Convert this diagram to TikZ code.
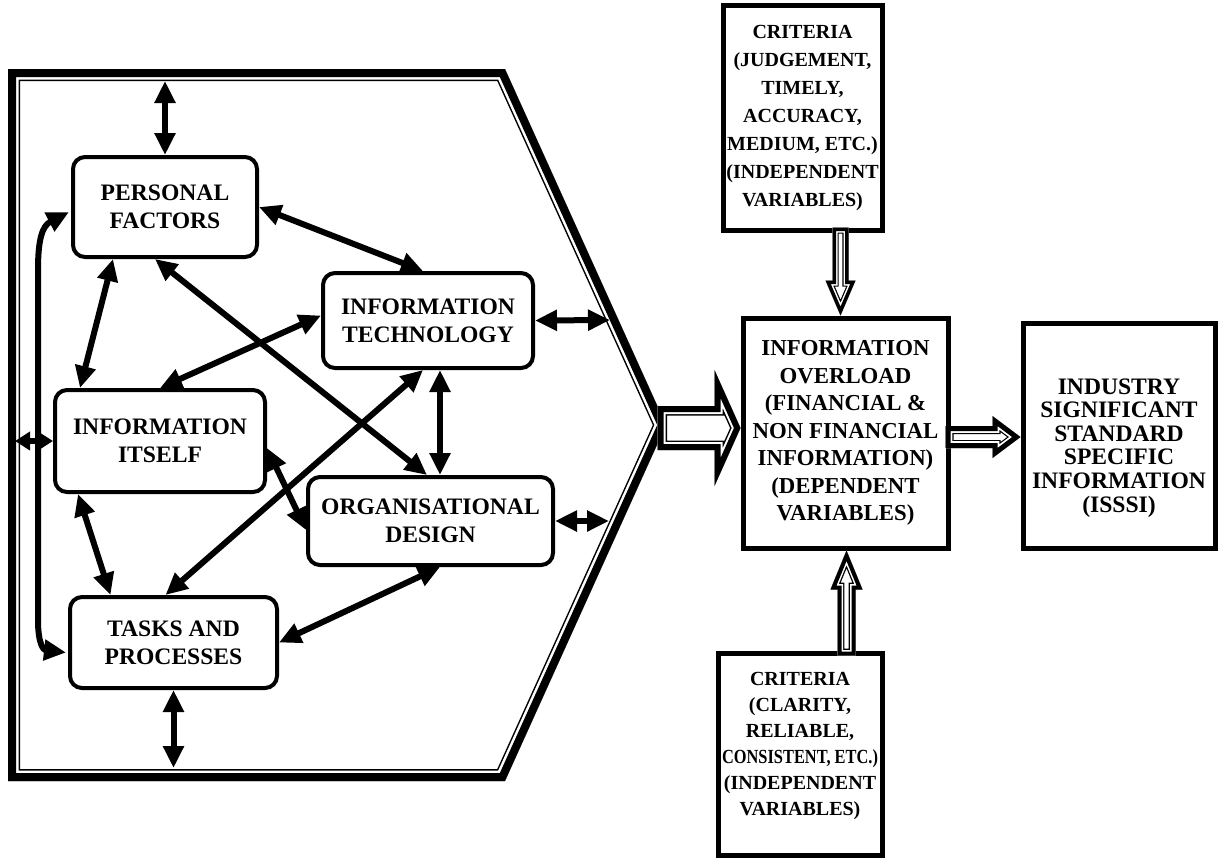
\documentclass[tikz,border=0pt]{standalone}
\usepackage{fontspec}
\setmainfont{Liberation Serif}
\usetikzlibrary{arrows.meta,calc}

% outline with a thick and a thin line inside it (widths in px)
\newcommand{\hollow}[4]{%
  \fill[white] #4;
  \begin{scope}
    \clip #4;
    \draw[line width=#3pt,line join=miter] #4;
    \draw[white,line width=#2pt,line join=miter] #4;
    \draw[line width=#1pt,line join=miter] #4;
  \end{scope}}

\tikzset{
  factor/.style={draw,line width=2pt,rounded corners=6pt,align=center,inner sep=0pt,
    font=\fontsize{11.8}{14}\selectfont\bfseries},
  result/.style={draw,line width=2.5pt,align=center,inner sep=0pt},
  link/.style={line width=3pt,{Triangle[length=11pt,width=10pt]}-{Triangle[length=11pt,width=10pt]}},
  shortlink/.style={line width=3pt,{Triangle[length=7.5pt,width=9pt]}-{Triangle[length=7.5pt,width=9pt]}},
}

\begin{document}
\begin{tikzpicture}[x=.5pt,y=-.5pt]
  \useasboundingbox (0,0) rectangle (1220,858);

  % frame round the factors
  \hollow{8}{10.5}{12}{(8,69) -- (505,69) -- (666,425) -- (505,781) -- (8,781) -- cycle}
  \coordinate (ftop) at (0,81);
  \coordinate (fbot) at (0,768);
  \coordinate (fleft) at (15,0);
  \coordinate (fslant1) at (610,320);
  \coordinate (fslant2) at (609,521);

  % factors
  \node[factor,minimum width=92pt,minimum height=50pt] (pf) at (165,207) {PERSONAL\\FACTORS};
  \node[factor,minimum width=105pt,minimum height=47.5pt] (it) at (428,320.5) {INFORMATION\\TECHNOLOGY};
  \node[factor,minimum width=105pt,minimum height=51pt] (ii) at (160,441) {INFORMATION\\ITSELF};
  \node[factor,minimum width=122.5pt,minimum height=44pt] (od) at (430.5,521) {ORGANISATIONAL\\DESIGN};
  \node[factor,minimum width=103.5pt,minimum height=45.5pt] (tp) at (173.5,642.5) {TASKS AND\\PROCESSES};

  % right hand boxes
  \node[result,minimum width=79.5pt,minimum height=112.5pt,font=\fontsize{10}{14}\selectfont\bfseries]
    (crit1) at (802.5,117.5) {CRITERIA\\(JUDGEMENT,\\TIMELY,\\ACCURACY,\\MEDIUM, ETC.)\\(INDEPENDENT\\VARIABLES)};
  \node[result,minimum width=102.5pt,minimum height=115pt,font=\fontsize{11.4}{13.75}\selectfont\bfseries]
    (ovl) at (845.5,433) {INFORMATION\\OVERLOAD\\(FINANCIAL \&\\NON FINANCIAL\\INFORMATION)\\(DEPENDENT\\VARIABLES)};
  \node[result,minimum width=96pt,minimum height=112.5pt,font=\fontsize{11.8}{11.8}\selectfont\bfseries]
    (ind) at (1119,435.5) {\rule{0pt}{20pt}INDUSTRY\\SIGNIFICANT\\STANDARD\\SPECIFIC\\INFORMATION\\(ISSSI)};
  \node[result,minimum width=82pt,minimum height=101pt,font=\fontsize{10}{13}\selectfont\bfseries]
    (crit2) at (800,754) {CRITERIA\\(CLARITY,\\RELIABLE,\\\scalebox{.82}[1]{CONSISTENT, ETC.)}\\(INDEPENDENT\\VARIABLES)\rule[-10pt]{0pt}{0pt}};

  % links between the factors
  \draw[link] (pf.north |- ftop) -- (pf.north);
  \draw[link] (tp.south) -- (tp.south |- fbot);
  \draw[shortlink] (fleft |- ii.west) -- (ii.west);
  \draw[link] ($(pf.west)+(-2,5)$) .. controls (42,226) and (38,240) .. (38,270)
    -- (38,620) .. controls (38,645) and (44,650) .. ($(tp.west)+(-2,10)$);
  \draw[link] ([xshift=-26pt]pf.south) -- ([xshift=-40pt]ii.north);
  \draw[link] (pf.east) -- ([xshift=-2.5pt]it.north);
  \draw[link] ([xshift=-5pt]pf.south) -- ([xshift=-1.75pt]od.north);
  \draw[link] ([yshift=2.5pt]it.west) -- (ii.north);
  \draw[link] ([xshift=-2.5pt]it.south) -- ([xshift=-4pt]tp.north);
  \draw[link] ([xshift=6pt]it.south) -- ([xshift=4.75pt]od.north);
  \draw[link] ([yshift=-3.5pt]ii.east) -- ([yshift=-4.5pt]od.west);
  \draw[link] ([xshift=-41pt]ii.south) -- ([xshift=-31.5pt]tp.north);
  \draw[link] ([xshift=4.75pt]od.south) -- (tp.east);
  \draw[link] (it.east) -- (fslant1);
  \draw[link] (od.east) -- (fslant2);

  % block arrows
  \begin{scope}[shift={($(ovl.west)+(0,-5)$)}]
    \hollow{6}{8}{9.5}{(0,0) -- (-26,-58) -- (-26,-22) -- (-83,-22) -- (-83,22) -- (-26,22) -- (-26,58) -- cycle}
  \end{scope}
  \begin{scope}[shift={($(ovl.north)+(-5,0)$)},rotate=-90]
    \hollow{3.5}{5}{6.2}{(0,0) -- (-35,15) -- (-35,8) -- (-88,8) -- (-88,-8) -- (-35,-8) -- (-35,-15) -- cycle}
  \end{scope}
  \begin{scope}[shift={($(ovl.south)+(1,0)$)},rotate=90]
    \hollow{4}{5.5}{6.8}{(0,0) -- (-39,16) -- (-39,9) -- (-105,9) -- (-105,-9) -- (-39,-9) -- (-39,-16) -- cycle}
  \end{scope}
  \begin{scope}[shift={($(ind.west)+(0,1.5)$)}]
    \hollow{5}{6.8}{8}{(0,0) -- (-28,21) -- (-28,11) -- (-75,11) -- (-75,-11) -- (-28,-11) -- (-28,-21) -- cycle}
  \end{scope}
\end{tikzpicture}
\end{document}
